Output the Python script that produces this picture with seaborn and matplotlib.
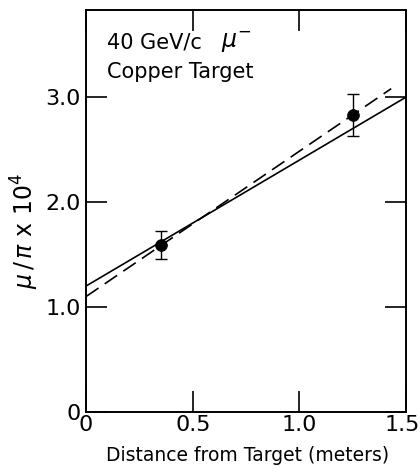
import numpy as np
import pandas as pd
import matplotlib
matplotlib.use("Agg")
import matplotlib.pyplot as plt
import matplotlib.transforms as mtrans
import seaborn as sns

# measured points
distance = [0.35, 1.25]
ratio = [1.59, 2.83]
ratio_err = [0.13, 0.20]

# fitted lines (end points)
solid_x = [0.0, 1.5]
solid_y = [1.20, 3.00]
dashed_x = [0.0, 1.43]
dashed_y = [1.10, 3.08]

x_ticks = [0, 0.5, 1.0, 1.5]
x_ticklabels = ["0", "0.5", "1.0", "1.5"]
y_ticks = [0, 1.0, 2.0, 3.0]
y_ticklabels = ["0", "1.0", "2.0", "3.0"]

sns.set_style("ticks")
plt.rcParams['font.family'] = ['DejaVu Sans']
plt.rcParams['mathtext.fontset'] = 'dejavusans'
plt.rcParams['text.color'] = 'black'
plt.rcParams['axes.labelcolor'] = 'black'
plt.rcParams['xtick.color'] = 'black'
plt.rcParams['ytick.color'] = 'black'
plt.rcParams['axes.edgecolor'] = 'black'

fig = plt.figure(figsize=(4.2, 4.73), dpi=100)
ax = fig.add_axes([0.205, 0.129, 0.762, 0.850])

pts = pd.DataFrame({"d": distance, "r": ratio})
sns.lineplot(x=solid_x, y=solid_y, ax=ax, color="black", lw=1.2)
sns.lineplot(x=dashed_x, y=dashed_y, ax=ax, color="black", lw=1.2,
             linestyle=(0, (9, 4.5)))
ax.errorbar(distance, ratio, yerr=ratio_err, fmt="none", ecolor="black",
            elinewidth=1.0, capsize=4.5, capthick=1.0)
sns.scatterplot(data=pts, x="d", y="r", ax=ax, color="black", s=70,
                edgecolor="black", zorder=5)

ax.set_xlim(0, 1.5)
ax.set_ylim(0, 3.83)
ax.set_xticks(x_ticks)
ax.set_xticklabels(x_ticklabels)
ax.set_yticks(y_ticks)
ax.set_yticklabels(y_ticklabels)
ax.tick_params(direction="in", length=15, width=1.2, labelsize=16,
               top=True, right=True, pad=2)
ax.tick_params(axis="y", pad=4)
for s in ax.spines.values():
    s.set_linewidth(1.4)
    s.set_visible(True)
# keep the last x label inside the figure
last = ax.get_xticklabels()[-1]
last.set_transform(last.get_transform() +
                   mtrans.ScaledTranslation(-4 / 100, 0, fig.dpi_scale_trans))

ax.set_xlabel("Distance from Target (meters)", fontsize=13.5)
ax.xaxis.set_label_coords(0.503, -0.085)
ax.set_ylabel(r"$\mu\,/\,\pi$ x 10$^4$", fontsize=17)
ax.yaxis.set_label_coords(-0.14, 0.45)

ax.text(0.065, 0.905, "40 GeV/c", transform=ax.transAxes, fontsize=15)
ax.text(0.42, 0.905, r"$\mu^{-}$", transform=ax.transAxes, fontsize=17)
ax.text(0.065, 0.83, "Copper Target", transform=ax.transAxes, fontsize=15)

fig.savefig("out.png", dpi=100)
